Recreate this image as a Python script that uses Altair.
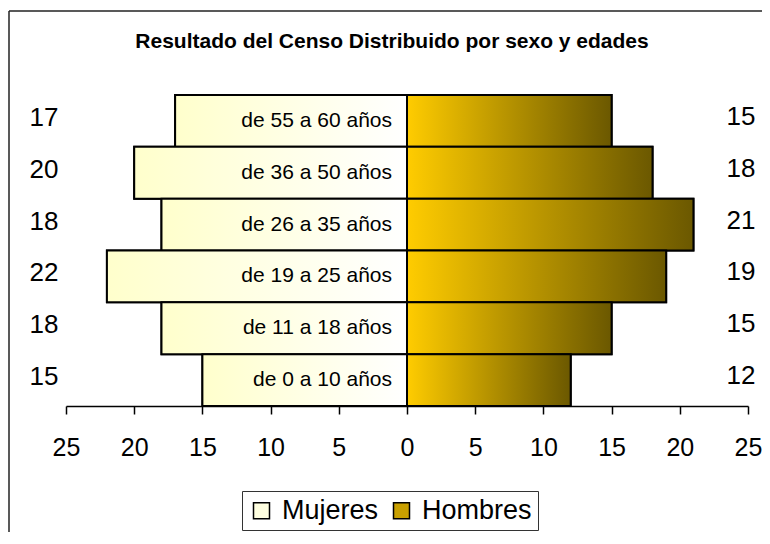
import altair as alt
import pandas as pd

# ---- data ----
edades = ["de 55 a 60 años", "de 36 a 50 años", "de 26 a 35 años",
          "de 19 a 25 años", "de 11 a 18 años", "de 0 a 10 años"]
mujeres = [17, 20, 18, 22, 18, 15]
hombres = [15, 18, 21, 19, 15, 12]
sexos = ["Mujeres", "Hombres"]
ticks = [-25, -20, -15, -10, -5, 0, 5, 10, 15, 20, 25]
titulo = "Resultado del Censo Distribuido por sexo y edades"

rows = []
for e, m, h in zip(edades, mujeres, hombres):
    rows.append({"edad": e, "sexo": "Mujeres", "valor": m, "ini": -m, "fin": 0})
    rows.append({"edad": e, "sexo": "Hombres", "valor": h, "ini": 0, "fin": h})
df = pd.DataFrame(rows)

FONT = "Liberation Sans"

x_scale = alt.Scale(domain=[-25, 25], nice=False, zero=False)
y_scale = alt.Scale(domain=edades, paddingInner=0, paddingOuter=0)

x_axis = alt.Axis(values=ticks, labelExpr="abs(datum.value)", title=None, grid=False,
                  domainColor="black", domainWidth=1.5, tickColor="black", tickWidth=1.5,
                  tickSize=8, labelFontSize=25, labelFont=FONT, labelColor="black",
                  labelPadding=21, labelFlush=False, labelOverlap=False)

x_enc = alt.X("ini:Q", scale=x_scale, axis=x_axis)
x2_enc = alt.X2("fin:Q")
y_enc = alt.Y("edad:N", scale=y_scale, axis=None)

base = alt.Chart(df)

# solid bars (carry the legend), covered by gradient bars
solid = base.mark_bar(stroke="black", strokeWidth=2).encode(
    x=x_enc, x2=x2_enc, y=y_enc,
    fill=alt.Fill("sexo:N",
                  scale=alt.Scale(domain=sexos, range=["#FFFFE0", "#C9A000"]),
                  legend=alt.Legend(title=None, orient="none", legendX=176, legendY=396,
                                    direction="horizontal", symbolType="square",
                                    symbolSize=256, labelFontSize=27, labelFont=FONT,
                                    labelColor="black", strokeColor="#333333",
                                    fillColor="white", padding=6, labelOffset=7,
                                    columnPadding=9, symbolStrokeColor="black",
                                    symbolStrokeWidth=1.5))
)

grad_m = alt.Gradient(gradient="linear",
                      stops=[alt.GradientStop(color="#FFFFCC", offset=0),
                             alt.GradientStop(color="#FFFFFF", offset=1)],
                      x1=0, x2=1, y1=0, y2=0)
grad_h = alt.Gradient(gradient="linear",
                      stops=[alt.GradientStop(color="#FFCC00", offset=0),
                             alt.GradientStop(color="#6B5800", offset=1)],
                      x1=0, x2=1, y1=0, y2=0)

bars_m = base.transform_filter(alt.datum.sexo == "Mujeres").mark_bar(
    fill=grad_m, stroke="black", strokeWidth=2).encode(x=x_enc, x2=x2_enc, y=y_enc)
bars_h = base.transform_filter(alt.datum.sexo == "Hombres").mark_bar(
    fill=grad_h, stroke="black", strokeWidth=2).encode(x=x_enc, x2=x2_enc, y=y_enc)

cat_labels = base.transform_filter(alt.datum.sexo == "Mujeres").mark_text(
    align="right", baseline="middle", fontSize=21, font=FONT, color="black", dx=-15
).encode(x=alt.X("fin:Q", scale=x_scale, axis=x_axis), y=y_enc, text="edad:N")

val_m = base.transform_filter(alt.datum.sexo == "Mujeres").mark_text(
    align="center", baseline="middle", fontSize=26, font=FONT, color="black", dy=-3
).encode(x=alt.value(-22), y=y_enc, text="valor:Q")
val_h = base.transform_filter(alt.datum.sexo == "Hombres").mark_text(
    align="center", baseline="middle", fontSize=26, font=FONT, color="black", dy=-4
).encode(x=alt.value(675), y=y_enc, text="valor:Q")

one = alt.Chart(pd.DataFrame({"k": [0]}))
frame_top = one.mark_rule(color="#222222", strokeWidth=1.5).encode(
    x=alt.value(-57), x2=alt.value(710), y=alt.value(-84))
frame_left = one.mark_rule(color="#222222", strokeWidth=1.5).encode(
    x=alt.value(-57), y=alt.value(-84), y2=alt.value(450))
title_mark = one.mark_text(text=titulo, font=FONT, fontSize=21, fontWeight="bold",
                           color="black", align="center", baseline="alphabetic").encode(
    x=alt.value(326), y=alt.value(-47))

chart = alt.layer(frame_top, frame_left, title_mark, solid, bars_m, bars_h,
                  cat_labels, val_m, val_h).properties(
    width=682, height=311,
    autosize=alt.AutoSizeParams(type="none"),
    padding={"left": 58, "top": 87, "right": 14, "bottom": 126},
    background="white",
).configure_view(stroke=None)

chart.save("out.html", embed_options={"renderer": "svg", "actions": False})
